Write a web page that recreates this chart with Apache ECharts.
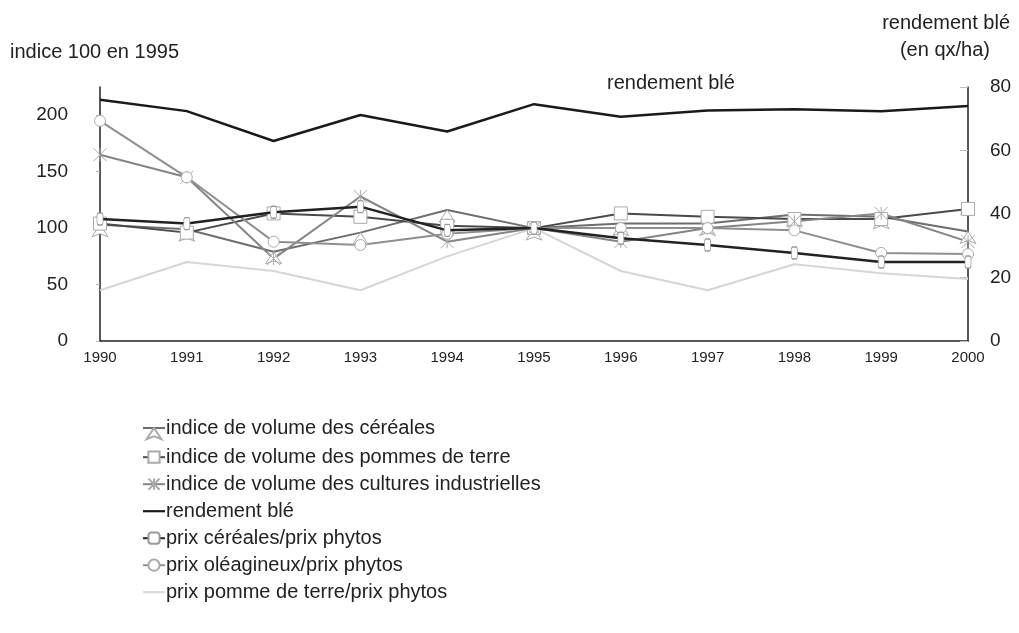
<!DOCTYPE html>
<html lang="fr">
  <head>
    <meta charset="UTF-8" />
    <title>Indices et rendement blé 1990-2000</title>
    <script src="https://cdn.jsdelivr.net/npm/echarts@6.0.0/dist/echarts.min.js"></script>
    <style>
      html, body { margin: 0; padding: 0; background: #fff; }
      #main { width: 1019px; height: 633px; }
    </style>
  </head>
  <body>
    <div id="main"></div>
    <script>
      // years on the x axis
      const years = ["1990", "1991", "1992", "1993", "1994", "1995", "1996", "1997", "1998", "1999", "2000"];

      // left axis: indices (100 in 1995)
      const volCereales = [103, 99, 79, 96, 116, 100, 104, 104, 112, 110, 97];
      const volPommesDeTerre = [104, 96, 113, 110, 102, 100, 113, 110, 108, 108, 117];
      const volCulturesInd = [165, 145, 73, 128, 88, 100, 88, 100, 106, 113, 88];
      const prixCereales = [108, 104, 114, 119, 98, 100, 91, 85, 78, 70, 70];
      const prixOleagineux = [195, 145, 88, 85, 95, 100, 100, 100, 98, 78, 77];
      const prixPommeDeTerre = [45, 70, 62, 45, 75, 100, 62, 45, 68, 60, 55];

      // right axis: wheat yield in qx/ha
      const rendementBle = [76, 72.4, 63, 71.2, 66, 74.6, 70.6, 72.6, 73, 72.4, 74];

      const font = "Liberation Sans, Arial, sans-serif";
      const xPath = "path://M0,0L10,10M10,0L0,10M5,0L5,10";
      const lineIcon = "path://M0,4h20v2h-20z";

      function idxSeries(name, data, color, symbol, size) {
        return {
          name: name,
          type: "line",
          yAxisIndex: 0,
          data: data,
          symbol: symbol,
          symbolSize: size,
          lineStyle: { color: color, width: 2 },
          itemStyle: { color: "#fff", borderColor: "#aaa", borderWidth: 1 },
          z: 3,
        };
      }

      let myChart = echarts.init(document.getElementById("main"));

      let titleStyle = { fontSize: 20, fontWeight: "normal", color: "#222" };

      let options = {
        animation: false,
        textStyle: { fontFamily: font },
        title: [
          { text: "indice 100 en 1995", left: 5, top: 37, textStyle: titleStyle },
          { text: "rendement blé", right: 4, top: 8, textStyle: titleStyle },
          { text: "(en qx/ha)", right: 24, top: 35, textStyle: titleStyle },
          { text: "rendement blé", left: 602, top: 68, textStyle: titleStyle },
        ],
        grid: { left: 100, right: 51, top: 87, bottom: 292 },
        legend: {
          orient: "vertical",
          left: 142,
          top: 418,
          padding: 0,
          itemGap: 7,
          itemWidth: 22,
          itemHeight: 14,
          textStyle: { fontSize: 20, color: "#222", fontFamily: font, padding: [0, 0, 0, -4] },
          data: [
            { name: "indice de volume des céréales" },
            { name: "indice de volume des pommes de terre" },
            { name: "indice de volume des cultures industrielles" },
            { name: "rendement blé", icon: lineIcon, itemStyle: { color: "#1a1a1a" } },
            { name: "prix céréales/prix phytos" },
            { name: "prix oléagineux/prix phytos" },
            { name: "prix pomme de terre/prix phytos", icon: lineIcon, itemStyle: { color: "#dcdcdc" } },
          ],
        },
        xAxis: {
          type: "category",
          data: years,
          boundaryGap: false,
          axisLine: { lineStyle: { color: "#222", width: 1.5 } },
          axisTick: { show: false },
          axisLabel: { fontSize: 15, color: "#222", margin: 9 },
        },
        yAxis: [
          {
            type: "value",
            min: 0,
            max: 225,
            interval: 50,
            axisLine: { show: true, lineStyle: { color: "#222", width: 1.5 } },
            axisTick: { show: true, inside: false, length: 4, lineStyle: { color: "#bbb" } },
            axisLabel: { fontSize: 19, color: "#222", margin: 32, showMaxLabel: false },
            splitLine: { show: false },
          },
          {
            type: "value",
            min: 0,
            max: 80,
            interval: 20,
            position: "right",
            axisLine: { show: true, lineStyle: { color: "#222", width: 1.5 } },
            axisTick: { show: true, inside: true, length: 8, lineStyle: { color: "#bbb" } },
            axisLabel: { fontSize: 19, color: "#222", margin: 22 },
            splitLine: { show: false },
          },
        ],
        series: [
          idxSeries("indice de volume des céréales", volCereales, "#6e6e6e", "arrow", 12),
          idxSeries("indice de volume des pommes de terre", volPommesDeTerre, "#4a4a4a", "rect", 13),
          idxSeries("indice de volume des cultures industrielles", volCulturesInd, "#858585", xPath, 13),
          {
            name: "rendement blé",
            type: "line",
            yAxisIndex: 1,
            data: rendementBle,
            symbol: "none",
            lineStyle: { color: "#1a1a1a", width: 2.5 },
            itemStyle: { color: "#1a1a1a" },
            z: 4,
          },
          {
            name: "prix céréales/prix phytos",
            type: "line",
            yAxisIndex: 0,
            data: prixCereales,
            symbol: "roundRect",
            symbolSize: [6, 12],
            lineStyle: { color: "#222", width: 2.5 },
            itemStyle: { color: "#fff", borderColor: "#999", borderWidth: 1 },
            z: 4,
          },
          idxSeries("prix oléagineux/prix phytos", prixOleagineux, "#8f8f8f", "circle", 11),
          {
            name: "prix pomme de terre/prix phytos",
            type: "line",
            yAxisIndex: 0,
            data: prixPommeDeTerre,
            symbol: "none",
            lineStyle: { color: "#d6d6d6", width: 2 },
            itemStyle: { color: "#d6d6d6" },
            z: 2,
          },
        ],
      };

      myChart.setOption(options);
    </script>
  </body>
</html>
